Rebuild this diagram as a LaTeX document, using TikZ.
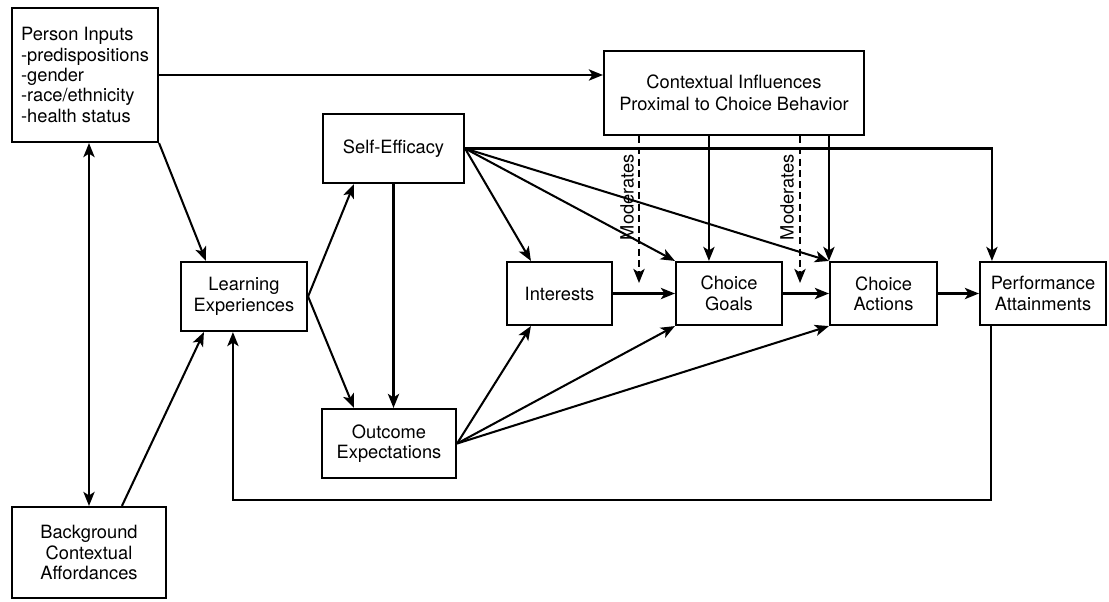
\documentclass[tikz,border=0pt]{standalone}
\usepackage{fontspec}
\setmainfont{TeX Gyre Heros}
\usetikzlibrary{positioning,arrows.meta,calc}

\begin{document}
\begin{tikzpicture}[
    x=0.025cm, y=-0.025cm,
    font=\fontsize{13}{14.5}\selectfont,
    tip/.tip={Stealth[length=10pt,width=8pt,inset=2.5pt]},
    box/.style={rectangle, draw, line width=1.5pt, inner sep=0pt, align=center},
    arr/.style={-tip, line width=1.45pt},
    modarr/.style={arr, dashed, dash pattern=on 5pt off 3pt}
]
\useasboundingbox (0,0) rectangle (1109,601);

\node[box, align=left, minimum width=3.65cm, minimum height=3.35cm] (person) at (85,75) {Person Inputs\\-predispositions\\-gender\\-race/ethnicity\\-health status};
\node[box, minimum width=6.5cm, minimum height=2.1cm, font=\fontsize{13}{15.5}\selectfont] (context) at (734,93) {Contextual Influences\\Proximal to Choice Behavior};
\node[box, minimum width=3.525cm, minimum height=1.725cm] (selfeff) at (393.5,148.5) {Self-Efficacy};
\node[box, minimum width=3.15cm, minimum height=1.725cm] (learning) at (244,296.5) {Learning\\Experiences};
\node[box, minimum width=2.625cm, minimum height=1.575cm] (interests) at (559.5,293.5) {Interests};
\node[box, minimum width=2.65cm, minimum height=1.575cm] (goals) at (729,293.5) {Choice\\Goals};
\node[box, minimum width=2.675cm, minimum height=1.575cm] (actions) at (883.5,293.5) {Choice\\Actions};
\node[box, minimum width=3.15cm, minimum height=1.575cm] (perform) at (1043,293.5) {Performance\\Attainments};
\node[box, minimum width=3.35cm, minimum height=1.725cm] (outcome) at (389,443.5) {Outcome\\Expectations};
\node[box, minimum width=3.85cm, minimum height=2.275cm] (background) at (89,552.5) {Background\\Contextual\\Affordances};

% helper points
\coordinate (m1) at (639,283);
\coordinate (m2) at (800,283);
\coordinate (gtop) at ($(goals.north west)+(34,0)$);
\coordinate (fb) at (991,500);

% person inputs and background
\draw[arr] (person.east) -- (person.east -| context.west);
\draw[arr] (person.south east) -- ($(learning.north west)+(26,0)$);
\draw[arr, tip-tip] (background.north |- person.south) -- (background.north);
\draw[arr] ($(background.north west)+(111,0)$) -- ($(learning.south west)+(24,0)$);

% learning experiences
\draw[arr] (learning.east) -- ($(selfeff.south west)+(32,0)$);
\draw[arr] (learning.east) -- ($(outcome.north west)+(33,0)$);
\draw[arr] (selfeff.south) -- (selfeff.south |- outcome.north);

% self-efficacy
\draw[arr] (selfeff.east) -- ($(interests.north west)+(25,0)$);
\draw[arr] (selfeff.east) -- (goals.north west);
\draw[arr] (selfeff.east) -- (actions.north west);
\draw[arr] (selfeff.east) -| ($(perform.north west)+(13,0)$);

% outcome expectations
\draw[arr] (outcome.east) -- ($(interests.south west)+(25,0)$);
\draw[arr] (outcome.east) -- (goals.south west);
\draw[arr] (outcome.east) -- (actions.south west);

% main chain
\draw[arr] (interests.east) -- (goals.west);
\draw[arr] (goals.east) -- (actions.west);
\draw[arr] (actions.east) -- (perform.west);

% contextual influences
\draw[arr] (gtop |- context.south) -- (gtop);
\draw[arr] (actions.north west |- context.south) -- (actions.north west);
\draw[modarr] (m1 |- context.south) -- (m1);
\draw[modarr] (m2 |- context.south) -- (m2);
\node[rotate=90] (mod1) at (627,197) {Moderates};
\node[rotate=90] (mod2) at (787,197) {Moderates};

% feedback loop
\draw[arr] (fb |- perform.south) -- (fb) -| ($(learning.south west)+(53,0)$);

\end{tikzpicture}
\end{document}
